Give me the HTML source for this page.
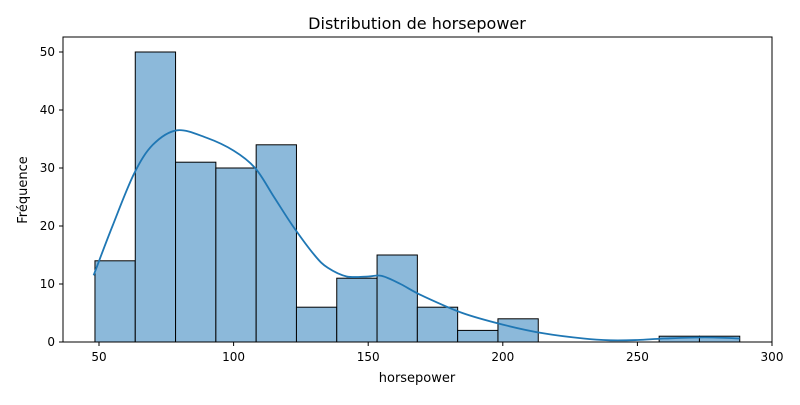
<!DOCTYPE html>
<html><head><meta charset="utf-8"><style>
body{margin:0;background:#fff;font-family:"Liberation Sans","DejaVu Sans",sans-serif;}
svg text{font-family:"DejaVu Sans","Liberation Sans",sans-serif;}
</style></head><body>
<svg id="chart" width="800" height="400" xmlns="http://www.w3.org/2000/svg">
<rect width="800" height="400" fill="#fff"/>
<g id="bars"></g>
<g id="kde"></g>
<rect x="63" y="37" width="709" height="305" fill="none" stroke="#000" stroke-width="1"/>
<g id="xt"></g>
<g id="yt"></g>
<text x="417" y="29" font-size="16" text-anchor="middle">Distribution de horsepower</text>
<text x="417" y="382" font-size="13" text-anchor="middle">horsepower</text>
<text x="27" y="190" font-size="13" text-anchor="middle" transform="rotate(-90 27 190)">Fréquence</text>
</svg>
<script>
const binStart = 48.5, binWidth = 14.97;
const counts = [14,50,31,30,34,6,11,15,6,2,4,0,0,0,1,1];
const xTicks = [50,100,150,200,250,300];
const yTicks = [0,10,20,30,40,50];
const kdeX = [48,55,63,70,79,90,100,108,115,122,130,135,142,150,155,162,170,185,200,215,230,240,250,260,275,288];
const kdeY = [11.5,20,29,34,36.5,35.2,33,30,25,20,15,12.8,11.3,11.3,11.4,10,8,5,3,1.5,0.6,0.3,0.35,0.6,0.8,0.6];
const NS='http://www.w3.org/2000/svg';
const sx = v => 99 + (v-50)*673/250;
const sy = v => 342 - v*5.8;
const bars = document.getElementById('bars');
counts.forEach((c,i)=>{
  if(c<=0) return;
  const r=document.createElementNS(NS,'rect');
  const x0=sx(binStart+i*binWidth), x1=sx(binStart+(i+1)*binWidth);
  r.setAttribute('x',x0);r.setAttribute('y',sy(c));
  r.setAttribute('width',x1-x0);r.setAttribute('height',sy(0)-sy(c));
  r.setAttribute('fill','#8cb9da');r.setAttribute('stroke','#000');r.setAttribute('stroke-width','1');
  
  
  bars.appendChild(r);
});
const pts=kdeX.map((x,i)=>[sx(x),sy(kdeY[i])]);
let d='M'+pts[0][0].toFixed(1)+','+pts[0][1].toFixed(1);
for(let i=0;i<pts.length-1;i++){
  const p0=pts[Math.max(i-1,0)],p1=pts[i],p2=pts[i+1],p3=pts[Math.min(i+2,pts.length-1)];
  const c1=[p1[0]+(p2[0]-p0[0])/6,p1[1]+(p2[1]-p0[1])/6];
  const c2=[p2[0]-(p3[0]-p1[0])/6,p2[1]-(p3[1]-p1[1])/6];
  d+='C'+c1.map(v=>v.toFixed(1)).join(',')+' '+c2.map(v=>v.toFixed(1)).join(',')+' '+p2.map(v=>v.toFixed(1)).join(',');
}
const p=document.createElementNS(NS,'path');
p.setAttribute('d',d);p.setAttribute('fill','none');p.setAttribute('stroke','#1f77b4');p.setAttribute('stroke-width','1.8');


document.getElementById('kde').appendChild(p);
const xt=document.getElementById('xt');
xTicks.forEach(v=>{
  const l=document.createElementNS(NS,'line');
  l.setAttribute('x1',sx(v));l.setAttribute('x2',sx(v));l.setAttribute('y1',342);l.setAttribute('y2',346);l.setAttribute('stroke','#000');
  
  
  xt.appendChild(l);
  const t=document.createElementNS(NS,'text');
  t.setAttribute('x',sx(v));t.setAttribute('y',361);t.setAttribute('font-size','12');t.setAttribute('text-anchor','middle');t.textContent=v;
  
  
  xt.appendChild(t);
});
const yt=document.getElementById('yt');
yTicks.forEach(v=>{
  const l=document.createElementNS(NS,'line');
  l.setAttribute('x1',59);l.setAttribute('x2',63);l.setAttribute('y1',sy(v));l.setAttribute('y2',sy(v));l.setAttribute('stroke','#000');
  
  
  yt.appendChild(l);
  const t=document.createElementNS(NS,'text');
  t.setAttribute('x',55);t.setAttribute('y',sy(v)+4);t.setAttribute('font-size','12');t.setAttribute('text-anchor','end');t.textContent=v;
  
  
  yt.appendChild(t);
});
</script>
</body></html>
